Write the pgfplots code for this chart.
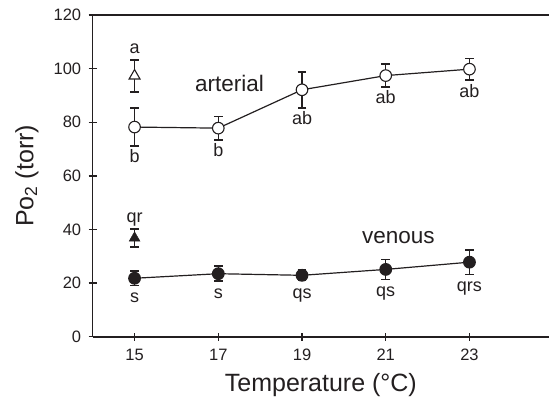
\documentclass[border=0pt]{standalone}
\usepackage{pgfplots}
\pgfplotsset{compat=1.18}
\usepackage{fontspec}
\setmainfont{Liberation Sans}
\definecolor{ink}{RGB}{35,31,32}

\begin{document}
\begin{tikzpicture}[font=\fontsize{16.5}{19}\selectfont, color=ink]
\begin{axis}[
    name=ax,
    scale only axis,
    width=456.3pt, height=321.7pt,
    xmin=14, xmax=24.9,
    ymin=0, ymax=120,
    axis x line=box,
    axis y line=left,
    axis line style={-, line width=1.6pt, ink},
    xtick={15,17,19,21,23},
    ytick={0,20,...,120},
    xtick pos=bottom,
    ytick pos=left,
    tick align=center,
    major tick length=8pt,
    tick style={line width=1.4pt, ink},
    tick label style={font=\fontsize{16.5}{19}\selectfont},
    xticklabel style={yshift=-5pt},
    yticklabel style={xshift=-4pt},
    /pgf/number format/assume math mode=true,
    every axis x label/.style={at={([yshift=-54.3pt]axis description cs:0.5,0)}, anchor=base},
    every axis y label/.style={at={([xshift=-59.4pt]axis description cs:0,0.5)}, rotate=90, anchor=base},
    label style={font=\fontsize{25}{28}\selectfont},
    xlabel={Temperature (°C)},
    ylabel={Po\textsubscript{2} (torr)},
    clip=false,
    error bars/y dir=both,
    error bars/y explicit,
    error bars/error bar style={line width=1.3pt, ink},
    error bars/error mark options={rotate=90, mark size=4.4pt, line width=1.6pt, ink},
]
% arterial, open circles
\addplot[line width=1.2pt, ink, mark=*, mark size=5.8pt, mark options={fill=white, line width=1.1pt}]
  coordinates {(15,78.2) +- (0,7) (17,77.8) +- (0,4.4) (19,92.1) +- (0,6.7) (21,97.4) +- (0,4.3) (23,99.8) +- (0,4.0)};
% arterial, open triangle
\addplot[only marks, ink, mark=triangle*, mark size=6.3pt, mark options={fill=white, line width=1.1pt}]
  coordinates {(15,97.3) +- (0,6)};
% venous, filled circles
\addplot[line width=1.2pt, ink, mark=*, mark size=5.8pt, mark options={fill=ink}]
  coordinates {(15,21.8) +- (0,2.7) (17,23.5) +- (0,2.8) (19,22.9) +- (0,2.0) (21,25.1) +- (0,3.7) (23,27.8) +- (0,4.6)};
% venous, filled triangle
\addplot[only marks, ink, mark=triangle*, mark size=6.3pt, mark options={fill=ink}]
  coordinates {(15,36.8) +- (0,3.4)};

\begin{scope}[font=\fontsize{18}{21}\selectfont]
\node[anchor=base] at (axis cs:15,105.7) {a};
\node[anchor=base] at (axis cs:15,64.9) {b};
\node[anchor=base] at (axis cs:17,67.2) {b};
\node[anchor=base] at (axis cs:19,79.0) {ab};
\node[anchor=base] at (axis cs:21,87.1) {ab};
\node[anchor=base] at (axis cs:23,89.3) {ab};
\node[anchor=base] at (axis cs:15,42.7) {qr};
\node[anchor=base] at (axis cs:15,12.8) {s};
\node[anchor=base] at (axis cs:17,14.3) {s};
\node[anchor=base] at (axis cs:19,14.1) {qs};
\node[anchor=base] at (axis cs:21,14.9) {qs};
\node[anchor=base] at (axis cs:23,16.8) {qrs};
\end{scope}
\node[anchor=base, font=\fontsize{22.5}{26}\selectfont] at (axis cs:17.27,91.4) {arterial};
\node[anchor=base, font=\fontsize{22.5}{26}\selectfont] at (axis cs:21.3,34.8) {venous};
\end{axis}
\pgfresetboundingbox
\path ([xshift=-92.7pt,yshift=-63.3pt]ax.south west) rectangle ([yshift=15pt]ax.north east);
\end{tikzpicture}
\end{document}
